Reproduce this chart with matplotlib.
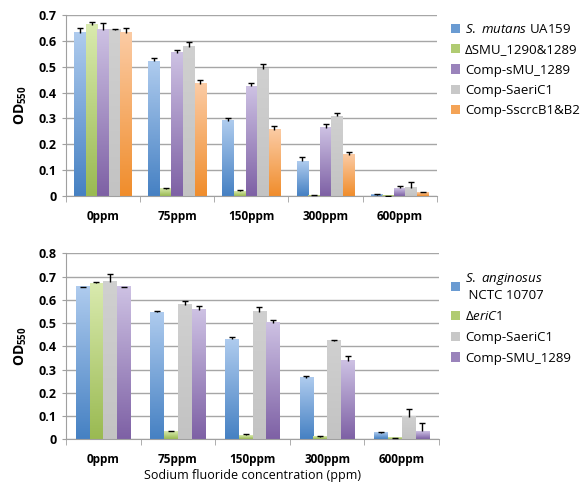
import matplotlib
matplotlib.use("Agg")
import matplotlib.pyplot as plt
import numpy as np
from matplotlib.colors import LinearSegmentedColormap
from matplotlib.patches import Patch

plt.rcParams["font.family"] = ["Open Sans", "DejaVu Sans"]
plt.rcParams["mathtext.fontset"] = "custom"
plt.rcParams["mathtext.it"] = "Open Sans:italic"
plt.rcParams["mathtext.rm"] = "Open Sans"
plt.rcParams["mathtext.bf"] = "Open Sans:bold"

categories = ["0ppm", "75ppm", "150ppm", "300ppm", "600ppm"]

# top panel: S. mutans strains
top_labels = [r"$\it{S.\ mutans}$ UA159", "ΔSMU_1290&1289", "Comp-sMU_1289",
              "Comp-SaeriC1", "Comp-SscrcB1&B2"]
top_vals = [
    [0.630, 0.521, 0.291, 0.135, 0.006],
    [0.661, 0.028, 0.019, 0.003, 0.001],
    [0.642, 0.554, 0.425, 0.265, 0.030],
    [0.642, 0.578, 0.491, 0.309, 0.033],
    [0.632, 0.434, 0.257, 0.160, 0.015],
]
top_err = [
    [0.019, 0.013, 0.011, 0.018, 0.003],
    [0.013, 0.002, 0.006, 0.001, 0.001],
    [0.027, 0.009, 0.013, 0.015, 0.010],
    [0.004, 0.019, 0.018, 0.011, 0.020],
    [0.017, 0.013, 0.013, 0.012, 0.002],
]

# bottom panel: S. anginosus strains
bot_labels = [r"$\it{S.\ anginosus}$" + "\n NCTC 10707", r"$\it{\Delta eriC1}$",
              "Comp-SaeriC1", "Comp-SMU_1289"]
bot_vals = [
    [0.654, 0.546, 0.430, 0.264, 0.029],
    [0.671, 0.034, 0.017, 0.010, 0.006],
    [0.677, 0.579, 0.548, 0.423, 0.097],
    [0.654, 0.556, 0.500, 0.337, 0.034],
]
bot_err = [
    [0.003, 0.004, 0.009, 0.010, 0.004],
    [0.004, 0.001, 0.006, 0.002, 0.001],
    [0.034, 0.016, 0.023, 0.006, 0.032],
    [0.003, 0.017, 0.013, 0.023, 0.038],
]

# (top colour, bottom colour) of each bar gradient
BLUE = ("#aecbee", "#4681c3")
GREEN = ("#d9eaae", "#9aba52")
PURPLE = ("#cdc1e3", "#7e61a5")
GRAY = ("#d0d0d0", "#c3c3c3")
ORANGE = ("#fbcba4", "#f08d2c")


def grad_bars(ax, vals, errs, labels, colors, ymax):
    n = len(vals)
    x = np.arange(len(categories))
    w = 0.78 / n if n == 5 else 0.74 / n
    grad = np.linspace(0, 1, 100).reshape(-1, 1)
    handles = []
    for i, (v, e, c) in enumerate(zip(vals, errs, colors)):
        pos = x - w * n / 2 + w * (i + 0.5)
        cmap = LinearSegmentedColormap.from_list("g", [c[1], c[0]])
        for xi, vi in zip(pos, v):
            ax.imshow(grad, extent=[xi - w / 2, xi + w / 2, 0, vi],
                      origin="lower", aspect="auto", cmap=cmap, zorder=2)
        _, caps, _ = ax.errorbar(pos, v, yerr=[np.zeros(len(v)), e], fmt="none",
                                 ecolor="black", elinewidth=1, capsize=2.5,
                                 capthick=1, zorder=3)
        caps[0].set_visible(False)  # only the upper cap, like Excel "plus"
        mid = LinearSegmentedColormap.from_list("m", [c[1], c[0]])(0.35)
        handles.append(Patch(facecolor=mid, edgecolor="none", label=labels[i]))
    ax.set_xlim(-0.5, len(categories) - 0.5)
    ax.set_ylim(0, ymax)
    ax.set_xticks(x)
    ax.set_xticklabels(categories, fontsize=8.5, fontweight="bold")
    ax.set_xticks(np.arange(len(categories) + 1) - 0.5, minor=True)
    ax.tick_params(axis="x", which="major", length=0, pad=10)
    ax.tick_params(axis="x", which="minor", length=4, color="#a0a0a0")
    ax.tick_params(axis="y", length=3, color="#a0a0a0", labelsize=9)
    for t in ax.get_yticklabels():
        t.set_fontweight("bold")
    ax.yaxis.grid(True, color="#a6a6a6", lw=1)
    ax.set_axisbelow(True)
    for s in ("top", "right"):
        ax.spines[s].set_visible(False)
    for s in ("left", "bottom"):
        ax.spines[s].set_color("#a0a0a0")
    ax.set_ylabel(r"OD$_{\mathbf{550}}$", fontsize=10, fontweight="bold",
                  labelpad=7)
    return handles


fig = plt.figure(figsize=(5.82, 4.83), dpi=100)
ax1 = fig.add_axes([0.1134, 0.594, 0.637, 0.375])
ax2 = fig.add_axes([0.1134, 0.0905, 0.641, 0.385])

h1 = grad_bars(ax1, top_vals, top_err, top_labels,
               [BLUE, GREEN, PURPLE, GRAY, ORANGE], 0.7)
ax1.set_yticks(np.arange(0, 0.71, 0.1))
ax1.set_yticklabels(["0"] + [f"{t:.1f}" for t in np.arange(0.1, 0.71, 0.1)])

h2 = grad_bars(ax2, bot_vals, bot_err, bot_labels,
               [BLUE, GREEN, GRAY, PURPLE], 0.8)
ax2.set_yticks(np.arange(0, 0.81, 0.1))
ax2.set_yticklabels(["0"] + [f"{t:.1f}" for t in np.arange(0.1, 0.81, 0.1)])
ax2.set_xlabel("Sodium fluoride concentration (ppm)", fontsize=9, labelpad=2)

fig.legend(handles=h1, loc="upper left", bbox_to_anchor=(0.765, 0.963),
           frameon=False, fontsize=9.5, handlelength=0.7, handleheight=0.7,
           handletextpad=0.4, labelspacing=0.55, borderaxespad=0)
fig.legend(handles=h2, loc="upper left", bbox_to_anchor=(0.765, 0.45),
           frameon=False, fontsize=9.5, handlelength=0.7, handleheight=0.7,
           handletextpad=0.4, labelspacing=0.6, borderaxespad=0)

fig.savefig("out.png", dpi=100)
